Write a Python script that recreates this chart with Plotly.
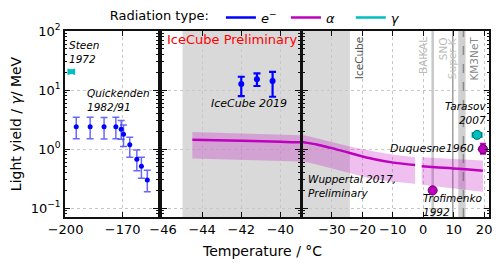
import math
import plotly.graph_objects as go

# ---------------- data ----------------
# Quickenden 1982/91 (electrons, ice)
quick_T = [-194.4, -187.1, -179.8, -173.6, -170.8, -169.6, -166.3, -162.6, -160.2, -157.1]
quick_y = [2.4, 2.4, 2.38, 2.4, 2.17, 1.79, 1.18, 0.67, 0.51, 0.30]
quick_up = [1.05, 1.05, 1.05, 1.05, 0.87, 0.78, 0.41, 0.30, 0.22, 0.14]
quick_dn = [0.9, 0.9, 0.9, 0.9, 0.70, 0.68, 0.45, 0.24, 0.19, 0.11]

# Steen 1972 (gamma)
steen_T = [-197.0]
steen_y = [20.5]
steen_xerr = [1.5]

# IceCube 2019 (electrons)
ic_T = [-42.0, -41.2, -40.4]
ic_y = [12.6, 15.3, 14.2]
ic_up = [4.2, 3.8, 6.1]
ic_dn = [4.7, 3.6, 6.5]

# Wuppertal 2017, preliminary (alpha) - two segments
wup1_T = [-44.5, -42, -40, -39.4, -35, -30.7, -24.1, -16.4, -9.8, -2.7]
wup1_y = [1.44, 1.39, 1.33, 1.31, 1.2, 1.06, 0.86, 0.68, 0.59, 0.54]
wup1_hi = [1.94, 1.86, 1.78, 1.74, 1.52, 1.34, 1.11, 0.92, 0.80, 0.73]
wup1_lo = [0.69, 0.66, 0.63, 0.62, 0.55, 0.48, 0.39, 0.31, 0.28, 0.26]
wup2_T = [-0.5, 5, 10, 15, 19.6]
wup2_y = [0.51, 0.49, 0.47, 0.45, 0.43]
wup2_hi = [0.73, 0.71, 0.68, 0.66, 0.64]
wup2_lo = [0.25, 0.23, 0.21, 0.20, 0.19]

# single measurements
trof_T, trof_y = [3.1], [0.20]
duq_T, duq_y, duq_up, duq_dn = [19.6], [1.0], [0.23], [0.17]
tar_T, tar_y, tar_xerr = [17.7], [1.74], [1.5]

# experiment temperatures
icecube_range = [-45.0, -24.1]
baikal_T = 3.1
sno_T = 9.7
superk_range = [11.5, 13.9]
km3net_T = 13.2

# axes
x1_range = [-200.3, -151.5]
x2_range = [-46.05, -39.0]
x3_range = [-39.5, 21.6]
x1_ticks = [-200, -170]
x2_ticks = [-46, -44, -42, -40]
x3_ticks = [-30, -20, -10, 0, 10, 20]
y_ticks = [0.1, 1, 10, 100]
y_ticktext = ["10<sup>−1</sup>", "10<sup>0</sup>", "10<sup>1</sup>", "10<sup>2</sup>"]
y_minor = [k * 10 ** e for e in range(-2, 3) for k in range(2, 10)]

legend_names = ["<i>e</i><sup>−</sup>", "<i>α</i>", "<i>γ</i>"]

BLUE = "#0000ff"
MAG = "#bf00bf"
CYAN = "#00bfbf"
BAND = "rgba(191,0,191,0.25)"
FONT = "DejaVu Sans"

fig = go.Figure()

# ----- panel 1 -----
fig.add_trace(go.Scatter(
    x=quick_T, y=quick_y, mode="markers", xaxis="x", yaxis="y", showlegend=False,
    marker=dict(color=BLUE, size=5),
    error_y=dict(type="data", array=quick_up, arrayminus=quick_dn, symmetric=False,
                 color="rgba(40,40,255,0.7)", thickness=1.5, width=3.5)))
fig.add_trace(go.Scatter(
    x=steen_T, y=steen_y, mode="markers", xaxis="x", yaxis="y", showlegend=False,
    marker=dict(color=CYAN, size=5, symbol="square"),
    error_x=dict(type="data", array=steen_xerr, color=CYAN, thickness=2, width=3)))

# ----- Wuppertal bands & lines (panels 2 and 3) -----
for xa, ya in [("x2", "y2"), ("x3", "y3")]:
    for T, y, hi, lo in [(wup1_T, wup1_y, wup1_hi, wup1_lo), (wup2_T, wup2_y, wup2_hi, wup2_lo)]:
        fig.add_trace(go.Scatter(x=T, y=hi, mode="lines", line=dict(width=0), xaxis=xa, yaxis=ya,
                                 showlegend=False, hoverinfo="skip"))
        fig.add_trace(go.Scatter(x=T, y=lo, mode="lines", line=dict(width=0), fill="tonexty",
                                 fillcolor=BAND, xaxis=xa, yaxis=ya, showlegend=False, hoverinfo="skip"))
        fig.add_trace(go.Scatter(x=T, y=y, mode="lines", line=dict(color=MAG, width=2.5, shape="spline"),
                                 xaxis=xa, yaxis=ya, showlegend=False))

# ----- IceCube 2019 -----
fig.add_trace(go.Scatter(
    x=ic_T, y=ic_y, mode="markers", xaxis="x2", yaxis="y2", showlegend=False,
    marker=dict(color=BLUE, size=6),
    error_y=dict(type="data", array=ic_up, arrayminus=ic_dn, symmetric=False,
                 color=BLUE, thickness=2.2, width=3.5)))

# ----- panel 3 single points -----
fig.add_trace(go.Scatter(x=trof_T, y=trof_y, mode="markers", xaxis="x3", yaxis="y3", showlegend=False,
                         marker=dict(color=MAG, size=9, line=dict(color="#600060", width=1))))
fig.add_trace(go.Scatter(x=duq_T, y=duq_y, mode="markers", xaxis="x3", yaxis="y3", showlegend=False,
                         marker=dict(color=MAG, size=9, line=dict(color="#600060", width=1)),
                         error_y=dict(type="data", array=duq_up, arrayminus=duq_dn, symmetric=False,
                                      color=MAG, thickness=2, width=3)))
fig.add_trace(go.Scatter(x=tar_T, y=tar_y, mode="markers", xaxis="x3", yaxis="y3", showlegend=False,
                         marker=dict(color=CYAN, size=9, line=dict(color="#006060", width=1)),
                         error_x=dict(type="data", array=tar_xerr, color=CYAN, thickness=2, width=3)))

# ----- legend entries (one legend per entry for spacing) -----
for name, col, lg in zip(legend_names, [BLUE, MAG, CYAN], ["legend", "legend2", "legend3"]):
    fig.add_trace(go.Scatter(x=[None], y=[None], mode="lines", name=name, legend=lg,
                             showlegend=True, line=dict(color=col, width=2.5)))

# ----- shapes -----
shapes = [
    dict(type="rect", xref="x2", yref="y2 domain", x0=icecube_range[0], x1=x2_range[1], y0=0, y1=1,
         fillcolor="#d9d9d9", line=dict(width=0), layer="below"),
    dict(type="rect", xref="x3", yref="y3 domain", x0=x3_range[0], x1=icecube_range[1], y0=0, y1=1,
         fillcolor="#d9d9d9", line=dict(width=0), layer="below"),
    dict(type="line", xref="x3", yref="y3 domain", x0=baikal_T, x1=baikal_T, y0=0, y1=1,
         line=dict(color="#c8c8c8", width=2.5), layer="below"),
    dict(type="line", xref="x3", yref="y3 domain", x0=sno_T, x1=sno_T, y0=0, y1=1,
         line=dict(color="#a0a0a0", width=1.5), layer="below"),
    dict(type="rect", xref="x3", yref="y3 domain", x0=superk_range[0], x1=superk_range[1], y0=0, y1=1,
         fillcolor="#d0d0d0", line=dict(width=0), layer="below"),
    dict(type="line", xref="x3", yref="y3 domain", x0=km3net_T, x1=km3net_T, y0=0, y1=1,
         line=dict(color="#8a8a8a", width=1.5, dash="dash"), layer="below"),
]


def ann(text, x, y, xref, yref, xanchor="left", yanchor="middle", size=10.5, color="black",
        angle=0, align="left"):
    return dict(text=text, x=x, y=y, xref=xref, yref=yref, xanchor=xanchor, yanchor=yanchor,
                showarrow=False, font=dict(family=FONT, size=size, color=color),
                textangle=angle, align=align)


annotations = [
    ann("<i>Steen<br>1972</i>", -199.3, math.log10(80), "x", "y", yanchor="top"),
    ann("<i>Quickenden<br>1982/91</i>", -189.6, math.log10(12.3), "x", "y", yanchor="top"),
    ann("<i>IceCube 2019</i>", -41.6, math.log10(5.9), "x2", "y2", xanchor="center", size=11),
    ann("IceCube Preliminary", -45.9, math.log10(72), "x2", "y2", size=13, color="red"),
    ann("<i>Wuppertal 2017,<br>Preliminary</i>", -38.4, math.log10(0.42), "x3", "y3", yanchor="top"),
    ann("<i>Trofimenko<br>1992</i>", -0.6, math.log10(0.2), "x3", "y3", yanchor="top"),
    ann("<i>Duquesne1960</i>", 17.2, math.log10(1.04), "x3", "y3", xanchor="right", size=11),
    ann("<i>Tarasov<br>2007</i>", 21.2, math.log10(2.3), "x3", "y3", xanchor="right",
        yanchor="bottom", align="right"),
    ann("IceCube", icecube_range[1] + 0.2, 0.98, "x3", "y3 domain", yanchor="top", size=10.5,
        color="#555555", angle=-90),
    ann("BAIKAL", baikal_T - 0.6, 0.98, "x3", "y3 domain", xanchor="right", yanchor="top", size=10.5,
        color="#bbbbbb", angle=-90),
    ann("SNO", sno_T - 0.6, 0.98, "x3", "y3 domain", xanchor="right", yanchor="top", size=10.5,
        color="#bbbbbb", angle=-90),
    ann("Super-K", superk_range[0] + 0.4, 0.98, "x3", "y3 domain", xanchor="right", yanchor="top",
        size=10.5, color="#c4c4c4", angle=-90),
    ann("KM3NeT", km3net_T + 0.8, 0.98, "x3", "y3 domain", yanchor="top", size=10.5,
        color="#888888", angle=-90),
    ann("Temperature / °C", 0.465, -0.13, "paper", "paper", xanchor="center", yanchor="top", size=14),
]

axis_common = dict(showline=True, linecolor="#111111", linewidth=1.5, mirror="ticks",
                   ticks="inside", ticklen=5, tickcolor="#111111", showgrid=True,
                   gridcolor="#c8c8c8", griddash="dot", gridwidth=1, zeroline=False,
                   tickfont=dict(family=FONT, size=13, color="black"))

yaxis_common = dict(axis_common, type="log", range=[-1.15, 2], tickmode="array",
                    tickvals=y_ticks, ticktext=y_ticktext,
                    minor=dict(ticks="inside", ticklen=2.5, tickcolor="#111111",
                               tickvals=y_minor, showgrid=False))

legend_common = dict(orientation="h", xref="container", yref="container", y=0.99,
                     xanchor="left", yanchor="top",
                     font=dict(family=FONT, size=13), bgcolor="rgba(0,0,0,0)", itemwidth=30)

fig.update_layout(
    width=499, height=267,
    margin=dict(l=65, r=10, t=31, b=50, autoexpand=False),
    paper_bgcolor="white", plot_bgcolor="white",
    font=dict(family=FONT, size=13, color="black"),
    xaxis=dict(axis_common, domain=[0, 0.2193], range=x1_range, tickmode="array", tickvals=x1_ticks),
    xaxis2=dict(axis_common, domain=[0.2288, 0.5542], range=x2_range, tickmode="array",
                tickvals=x2_ticks, anchor="y2"),
    xaxis3=dict(axis_common, domain=[0.5613, 1.0], range=x3_range, tickmode="array",
                tickvals=x3_ticks, anchor="y3"),
    yaxis=dict(yaxis_common, anchor="x",
               title=dict(text="Light yield / <i>γ</i>/ MeV", font=dict(family=FONT, size=14),
                          standoff=6)),
    yaxis2=dict(yaxis_common, anchor="x2", matches="y", showticklabels=False),
    yaxis3=dict(yaxis_common, anchor="x3", matches="y", showticklabels=False),
    shapes=shapes,
    annotations=annotations,
    showlegend=True,
    legend=dict(legend_common, x=0.216,
                title=dict(text="Radiation type: ", side="left", font=dict(family=FONT, size=13))),
    legend2=dict(legend_common, x=0.573),
    legend3=dict(legend_common, x=0.703),
)

fig.write_html("out.html", config={"displayModeBar": False},
               post_script="document.body.style.margin='0';")
